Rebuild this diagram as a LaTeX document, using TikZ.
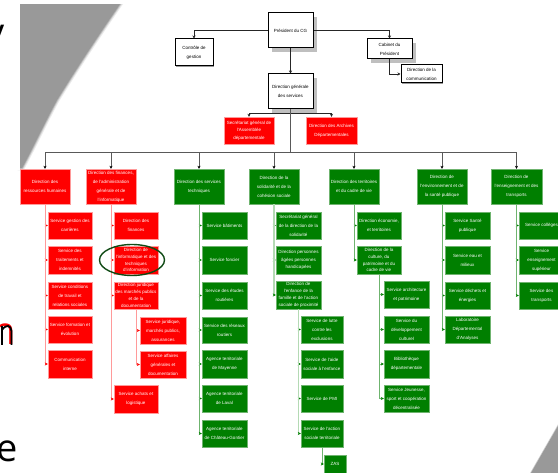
\documentclass[tikz,border=0pt]{standalone}
\usepackage{fontspec}
\setmainfont{Liberation Sans}
\newfontfamily\slidefont{Open Sans}
\usetikzlibrary{arrows.meta,shadows,shapes.geometric}
\definecolor{orgred}{HTML}{FF0000}
\definecolor{orggreen}{HTML}{007F00}
\definecolor{palered}{HTML}{FF9A9A}
\definecolor{palegreen}{HTML}{6FB46F}
\definecolor{palergreen}{HTML}{B4DAB4}
\definecolor{slidegray}{HTML}{999999}
\definecolor{ringgreen}{HTML}{0F4A14}
\tikzset{
  x=1pt,y=-1pt,
  orgnode/.style={inner sep=0pt,align=center,font=\fontsize{4.5}{9}\selectfont},
  tight/.style={font=\fontsize{4.5}{6.8}\selectfont},
  semitight/.style={font=\fontsize{4.5}{7.6}\selectfont},
  white box/.style={orgnode,draw=black,line width=1pt,fill=white,text=black},
  big shadow/.style={drop shadow={shadow xshift=4pt,shadow yshift=-4pt,fill=black!25,opacity=1}},
  small shadow/.style={drop shadow={shadow xshift=1pt,shadow yshift=-1pt,fill=black!40,opacity=1}},
  red box/.style={orgnode,fill=orgred,draw=palered,line width=.4pt,text=white},
  green box/.style={orgnode,fill=orggreen,draw=palegreen,line width=.4pt,text=white},
  black link/.style={draw=black!85,line width=.7pt,-{Stealth[length=3pt,width=3pt]}},
  bus link/.style={draw=black!65,line width=.8pt,-{Stealth[length=3pt,width=3pt,color=black]}},
  plain link/.style={draw=black!65,line width=.8pt},
  red link/.style={draw=palered,line width=.9pt,-{Stealth[length=3pt,width=3pt,color=orgred]}},
  green link/.style={draw=palegreen,line width=.9pt,-{Stealth[length=3pt,width=3pt,color=orggreen]}},
  pale link/.style={draw=palergreen,line width=1.5pt,-{Stealth[length=3pt,width=3pt,color=orggreen]}},
  slide letter/.style={font=\slidefont\fontsize{38}{38}\selectfont,inner sep=0pt,anchor=base east},
}
\newcommand{\orgbox}[7]{\node[#2,minimum width={(#5-#3)*1pt},minimum height={(#6-#4)*1pt}] (#1) at ({(#3+#5)/2},{(#4+#6)/2}) {#7};}
\begin{document}
\begin{tikzpicture}
\useasboundingbox (0,0) rectangle (558,473);
\clip (0,0) rectangle (558,473);
\fill[white] (0,0) rectangle (558,473);
% slide decoration
\def\swooshA{(20,4) -- (120,4) .. controls (100,33) and (78,66) .. (57,100) .. controls (45,122) and (32,150) .. (22,168) -- (20,168) -- cycle}
\draw[line width=5pt,black!8] \swooshA;
\draw[line width=3pt,black!18] \swooshA;
\draw[line width=1.5pt,black!30] \swooshA;
\fill[slidegray] \swooshA;
\fill[white] (0,0) rectangle (20,170);
\fill[white] (0,0) rectangle (140,4);
\def\swooshB{(531,473) -- (558,426) -- (558,473) -- cycle}
\draw[line width=1.5pt,black!20] \swooshB;
\fill[slidegray] \swooshB;
\node[slide letter] at (5,46) {y};
\node[slide letter,text=red] at (16,345) {n};
\draw[black,line width=1.8pt] (2,345) -- (2,326) (2,330) .. controls (6,324) and (11,325) .. (11.5,331) -- (11.5,345);
\node[slide letter] at (18,462) {e};
% top of the chart
\orgbox{pres}{white box,big shadow}{268}{13}{313}{48}{Président du CG}
\orgbox{ctrl}{white box,small shadow}{175}{39}{213}{66}{Contrôle de\\gestion}
\orgbox{cab}{white box,big shadow}{367}{39}{412}{59}{Cabinet du\\Président}
\orgbox{comm}{white box,small shadow}{401}{65}{442}{83}{Direction de la\\communication}
\orgbox{dg}{white box,big shadow}{268}{74}{313}{109}{Direction générale\\des services}
\orgbox{sec}{red box,semitight}{224}{117}{274}{144}{Secrétariat général de\\l'Assemblée\\départementale}
\orgbox{arch}{red box}{306}{117}{357}{144}{Direction des Archives\\Départementales}
\coordinate (sj) at (290.5,113.5);
\coordinate (bus) at (290.5,152);
\draw[black link] (pres.west) -| (ctrl.north);
\draw[black link] (pres.east) -| (cab.north);
\draw[black link] (pres.south) -- (dg.north);
\draw[black link] (cab.south) |- (comm.west);
\draw[black link] (sj) -| (sec.north);
\draw[black link] (sj) -| (arch.north);
\draw[plain link] (dg.south) -- (bus);
% directions
\orgbox{dA}{red box}{20}{169}{70}{204}{Direction des\\ressources humaines}
\orgbox{dB}{red box}{86}{169}{136}{204}{Direction des finances,\\de l'administration\\générale et de\\l'informatique}
\orgbox{dC}{green box}{174}{169}{224}{204}{Direction des services\\techniques}
\orgbox{dD}{green box}{249}{169}{299}{204}{Direction de la\\solidarité et de la\\cohésion sociale}
\orgbox{dE}{green box}{329}{169}{379}{204}{Direction des territoires\\et du cadre de vie}
\orgbox{dF}{green box}{417}{169}{467}{204}{Direction de\\l'environnement et de\\la santé publique}
\orgbox{dG}{green box}{491}{169}{542}{204}{Direction de\\l'enseignement et des\\transports}
\foreach \d in {dA,dB,dC,dD,dE,dF,dG}{\draw[bus link] (bus) -| (\d.north);}
% column A
\orgbox{a1}{red box}{48}{212}{92}{239}{Service gestion des\\carrières}
\orgbox{a2}{red box}{48}{246}{92}{274}{Service des\\traitements et\\indemnités}
\orgbox{a3}{red box}{48}{282}{92}{309}{Service conditions\\de travail et\\relations sociales}
\orgbox{a4}{red box}{48}{316}{92}{343}{Service formation et\\évolution}
\orgbox{a5}{red box}{48}{350}{92}{378}{Communication\\interne}
\foreach \c in {a1,a2,a3,a4,a5}{\draw[red link] (dA.south) |- (\c.west);}
% column B
\orgbox{b1}{red box}{114}{212}{158}{239}{Direction des\\finances}
\orgbox{b2}{red box,tight}{114}{246}{158}{274}{Direction de\\l'informatique et des\\techniques\\d'information}
\orgbox{b3}{red box,tight}{114}{282}{158}{309}{Direction juridique\\des marchés publics\\et de la\\documentation}
\orgbox{b4}{red box}{114}{385}{158}{413}{Service achats et\\logistique}
\foreach \c in {b1,b2,b3,b4}{\draw[red link] (dB.south) |- (\c.west);}
\orgbox{b5}{red box}{140}{317}{186}{344}{Service juridique,\\marchés publics,\\assurances}
\orgbox{b6}{red box}{140}{351}{186}{378}{Service affaires\\générales et\\documentation}
\foreach \c in {b5,b6}{\draw[red link] (b3.south) |- (\c.west);}
\node[draw=ringgreen,line width=1.4pt,ellipse,minimum width=65pt,minimum height=31pt,inner sep=0pt] (focus) at (132,260) {};
% column C
\orgbox{c1}{green box}{202}{212}{247}{239}{Service bâtiments}
\orgbox{c2}{green box}{202}{246}{247}{274}{Service foncier}
\orgbox{c3}{green box}{202}{282}{247}{309}{Service des études\\routières}
\orgbox{c4}{green box}{202}{317}{247}{343}{Service des réseaux\\routiers}
\orgbox{c5}{green box}{202}{350}{247}{378}{Agence territoriale\\de Mayenne}
\orgbox{c6}{green box}{202}{385}{247}{412}{Agence territoriale\\de Laval}
\orgbox{c7}{green box}{202}{420}{247}{447}{Agence territoriale\\de Château-Gontier}
\foreach \c in {c1,c2,c3,c4,c5,c6,c7}{\draw[green link] (dC.south) |- (\c.west);}
% column D
\orgbox{e1}{green box}{276}{212}{321}{239}{Secrétariat général\\de la direction de la\\solidarité}
\orgbox{e2}{green box,semitight}{276}{246}{321}{274}{Direction personnes\\âgées personnes\\handicapées}
\orgbox{e3}{green box,tight}{276}{281}{321}{309}{Direction de\\l'enfance de la\\famille et de l'action\\sociale de proximité}
\foreach \c in {e1,e2,e3}{\draw[pale link] (dD.south) |- (\c.west);}
\orgbox{e4}{green box}{301}{316}{343}{343}{Service de lutte\\contre les\\exclusions}
\orgbox{e5}{green box}{301}{350}{343}{378}{Service de l'aide\\sociale à l'enfance}
\orgbox{e6}{green box}{301}{385}{343}{412}{Service de PMI}
\orgbox{e7}{green box}{301}{420}{343}{447}{Service de l'action\\sociale territoriale}
\foreach \c in {e4,e5,e6,e7}{\draw[pale link] (e3.south) |- (\c.west);}
\orgbox{e8}{green box}{324}{455}{346}{473}{ZAS}
\draw[green link] (e7.south) |- (e8.west);
% column E
\orgbox{f1}{green box}{357}{212}{401}{239}{Direction économie,\\et territoires}
\orgbox{f2}{green box,tight}{357}{246}{401}{274}{Direction de la\\culture, du\\patrimoine et du\\cadre de vie}
\foreach \c in {f1,f2}{\draw[green link] (dE.south) |- (\c.west);}
\orgbox{f3}{green box}{384}{281}{429}{308}{Service architecture\\et patrimoine}
\orgbox{f4}{green box}{384}{316}{429}{343}{Service du\\développement\\culturel}
\orgbox{f5}{green box}{384}{350}{429}{378}{Bibliothèque\\départementale}
\orgbox{f6}{green box}{384}{385}{429}{412}{Service Jeunesse,\\sport et coopération\\décentralisée}
\foreach \c in {f3,f4,f5,f6}{\draw[green link] (f2.south) |- (\c.west);}
% column F
\orgbox{g1}{green box}{445}{212}{490}{239}{Service Santé\\publique}
\orgbox{g2}{green box}{445}{246}{490}{274}{Service eau et\\milieux}
\orgbox{g3}{green box}{445}{282}{490}{309}{Service déchets et\\énergies}
\orgbox{g4}{green box}{445}{316}{490}{343}{Laboratoire\\Départemental\\d'Analyses}
\foreach \c in {g1,g2,g3,g4}{\draw[green link] (dF.south) |- (\c.west);}
% column G
\orgbox{h1}{green box}{519}{212}{564}{239}{Service collèges}
\orgbox{h2}{green box}{519}{246}{564}{274}{Service\\enseignement\\supérieur}
\orgbox{h3}{green box}{519}{282}{564}{309}{Service des\\transports}
\foreach \c in {h1,h2,h3}{\draw[green link] (dG.south) |- (\c.west);}
\end{tikzpicture}
\end{document}
